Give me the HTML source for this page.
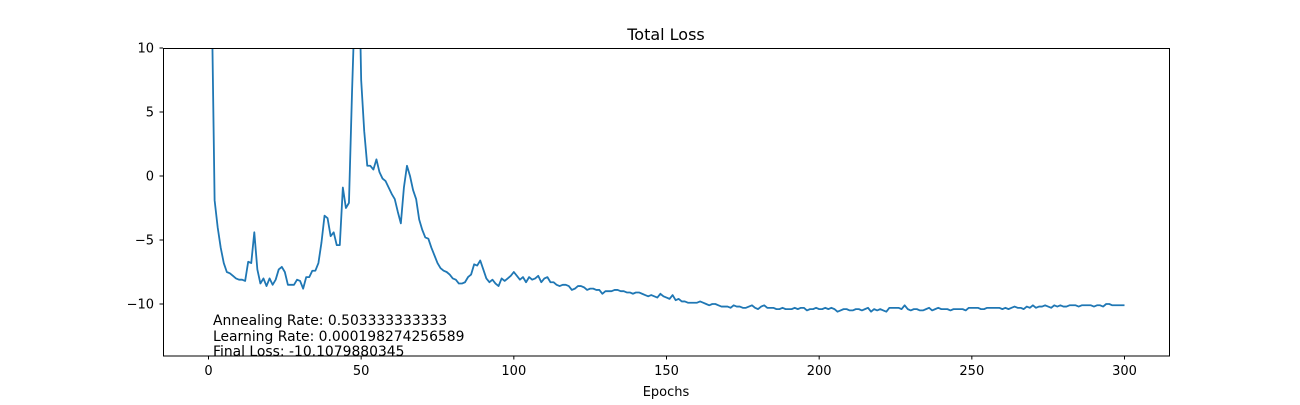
<!DOCTYPE html>
<html><head><meta charset="utf-8"><style>
body{margin:0;background:#fff;}
svg text{font-family:"DejaVu Sans","Liberation Sans",sans-serif;fill:#000;}
</style></head><body>
<svg id="chart" width="1300" height="400" xmlns="http://www.w3.org/2000/svg">
<rect width="1300" height="400" fill="#fff"/>
<text x="666" y="40" font-size="16" text-anchor="middle">Total Loss</text>
<defs><clipPath id="clip"><rect x="163" y="48" width="1007" height="308"/></clipPath></defs>
<g id="xticks"></g><g id="yticks"></g>
<path id="line" clip-path="url(#clip)" fill="none" stroke="#1f77b4" stroke-width="1.8" stroke-linejoin="round"/>
<rect x="163.5" y="48.5" width="1006" height="307.5" fill="none" stroke="#000" stroke-width="1"/>
<text x="213" y="325" font-size="13.9">Annealing Rate: 0.503333333333</text>
<text x="213" y="341" font-size="13.9">Learning Rate: 0.000198274256589</text>
<text x="213" y="356" font-size="13.9">Final Loss: -10.1079880345</text>
<text x="666" y="396" font-size="13" text-anchor="middle">Epochs</text>
</svg>
<script>
const xTicks=[0,50,100,150,200,250,300];
const yTicks=[10,5,0,-5,-10];
const lossHead=[40,15,-1.9,-4.0,-5.6,-6.8,-7.5,-7.6,-7.8,-8.0,-8.1,-8.1,-8.2,-6.7,-6.8,-4.4,-7.3,-8.4,-8.0,-8.6,-8.0,-8.5,-8.1,-7.3,-7.1,-7.5,-8.5,-8.5,-8.5,-8.1,-8.2,-8.8,-7.9,-7.9,-7.4,-7.4,-6.8,-5.2,-3.1,-3.3,-4.7,-4.4,-5.4,-5.4,-0.9,-2.5,-2.1,6.5,14,20,7.5,3.5,0.8,0.8,0.5,1.3,0.3,-0.2,-0.4,-0.9,-1.4,-1.8,-2.8,-3.7,-0.9,0.8,0.0,-1.1,-1.8,-3.4,-4.2,-4.8,-4.9,-5.6,-6.2,-6.8,-7.2,-7.4,-7.5,-7.7,-8.0,-8.1,-8.4,-8.4,-8.3,-7.9,-7.7,-6.9,-7.0,-6.6,-7.3,-8.0,-8.3,-8.1,-8.4,-8.6,-8.0,-8.2,-8.0,-7.8,-7.5];
const lossTail=[-7.8,-8.1,-7.9,-8.3,-7.9,-8.1,-8.0,-7.8,-8.3,-8.0,-7.9,-8.3,-8.3,-8.5,-8.6,-8.5,-8.5,-8.6,-8.9,-8.8,-8.6,-8.6,-8.7,-8.9,-8.8,-8.8,-8.9,-8.9,-9.2,-9.0,-9.0,-9.0,-8.9,-8.9,-9.0,-9.0,-9.1,-9.1,-9.2,-9.1,-9.1,-9.2,-9.3,-9.4,-9.3,-9.4,-9.5,-9.2,-9.4,-9.5,-9.6,-9.3,-9.7,-9.6,-9.8,-9.8,-9.9,-9.9,-9.9,-9.9,-9.8,-9.9,-10.0,-10.1,-10.0,-10.0,-10.1,-10.2,-10.2,-10.2,-10.3,-10.1,-10.2,-10.2,-10.3,-10.3,-10.2,-10.1,-10.3,-10.4,-10.2,-10.1,-10.3,-10.3,-10.3,-10.4,-10.4,-10.3,-10.4,-10.4,-10.4,-10.3,-10.4,-10.3,-10.3,-10.5,-10.4,-10.4,-10.3,-10.4,-10.4,-10.3,-10.4,-10.3,-10.4,-10.6,-10.5,-10.4,-10.4,-10.5,-10.5,-10.4,-10.4,-10.5,-10.4,-10.3,-10.6,-10.4,-10.5,-10.4,-10.5,-10.6,-10.3,-10.3,-10.3,-10.3,-10.4,-10.1,-10.4,-10.5,-10.4,-10.4,-10.5,-10.5,-10.4,-10.3,-10.5,-10.4,-10.3,-10.4,-10.4,-10.4,-10.5,-10.4,-10.4,-10.4,-10.4,-10.5,-10.3,-10.3,-10.3,-10.3,-10.4,-10.4,-10.3,-10.3,-10.3,-10.3,-10.3,-10.4,-10.3,-10.4,-10.3,-10.2,-10.3,-10.3,-10.4,-10.2,-10.3,-10.1,-10.3,-10.2,-10.2,-10.1,-10.2,-10.3,-10.1,-10.2,-10.1,-10.2,-10.2,-10.1,-10.1,-10.1,-10.2,-10.1,-10.1,-10.1,-10.1,-10.2,-10.1,-10.1,-10.2,-10.0,-10.0,-10.1,-10.1,-10.1,-10.1,-10.1];
const loss=lossHead.concat(lossTail);
const X0=208.5,XS=(1124.5-208.5)/300,Y0=176,YS=12.8;
function xs(v){return X0+v*XS;}
function ys(v){return Y0-v*YS;}
const NS='http://www.w3.org/2000/svg';
const xg=document.getElementById('xticks'),yg=document.getElementById('yticks');
xTicks.forEach(t=>{
  const l=document.createElementNS(NS,'line');
  l.setAttribute('x1',xs(t));l.setAttribute('x2',xs(t));l.setAttribute('y1',356);l.setAttribute('y2',359.5);l.setAttribute('stroke','#000');
  
  
  xg.appendChild(l);
  const tx=document.createElementNS(NS,'text');
  tx.setAttribute('x',xs(t));tx.setAttribute('y',375);tx.setAttribute('font-size','13');tx.setAttribute('text-anchor','middle');
  tx.textContent=t;
  
  
  xg.appendChild(tx);
});
yTicks.forEach(t=>{
  const l=document.createElementNS(NS,'line');
  l.setAttribute('x1',159.5);l.setAttribute('x2',163);l.setAttribute('y1',ys(t));l.setAttribute('y2',ys(t));l.setAttribute('stroke','#000');
  
  
  yg.appendChild(l);
  const tx=document.createElementNS(NS,'text');
  tx.setAttribute('x',154);tx.setAttribute('y',ys(t)+4.5);tx.setAttribute('font-size','13');tx.setAttribute('text-anchor','end');
  tx.textContent=(t<0?'\u2212'+(-t):t);
  
  
  yg.appendChild(tx);
});
document.getElementById('line').setAttribute('d',loss.map((v,i)=>(i?'L':'M')+xs(i).toFixed(2)+','+ys(v).toFixed(2)).join(''));
</script>
</body></html>
